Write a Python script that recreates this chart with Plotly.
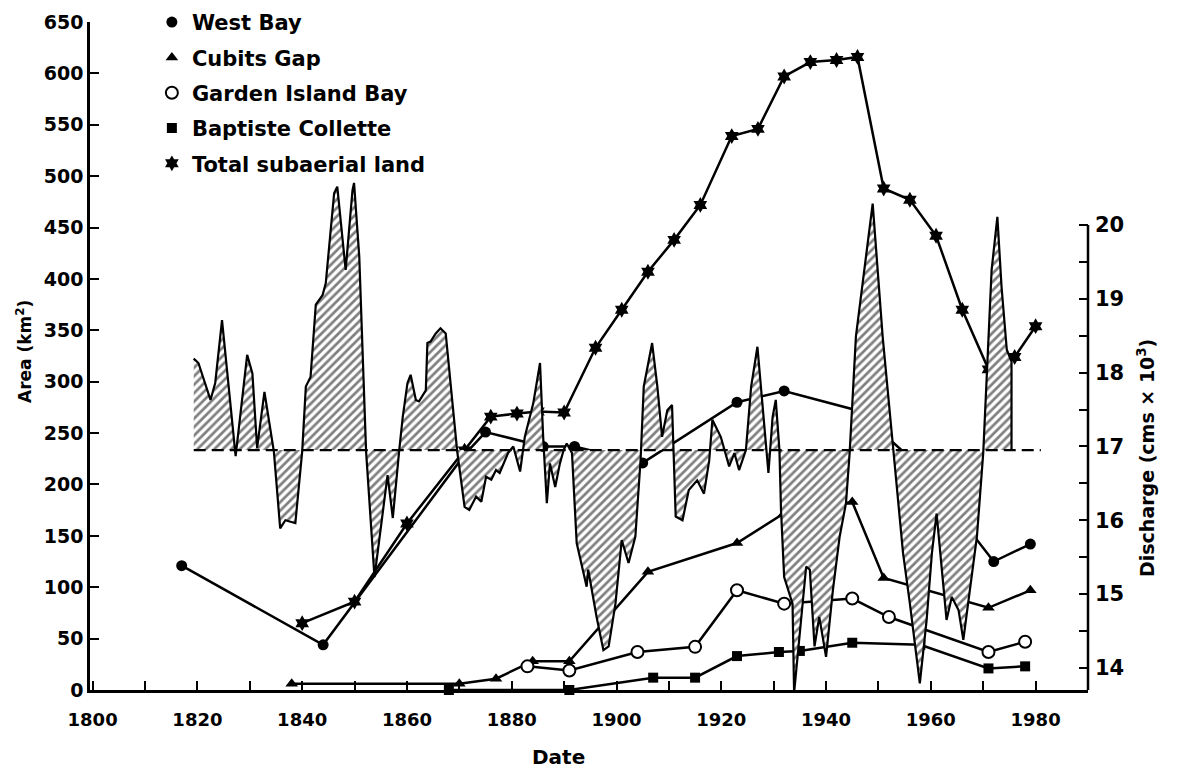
import plotly.graph_objects as go

# Surfaces des sous-deltas (km2)
WB_YEARS = [1817, 1844, 1871, 1875, 1886, 1892, 1905, 1923, 1932, 1946, 1958, 1972, 1979]
WB_AREA = [121, 44, 229, 251, 237, 237, 221, 280, 291, 272, 217, 125, 142]

CG_YEARS = [1838, 1870, 1877, 1884, 1891, 1906, 1923, 1932, 1945, 1951, 1971, 1979]
CG_AREA = [6, 6, 11, 28, 28, 115, 143, 172, 183, 109, 80, 97]

GIB_YEARS = [1883, 1891, 1904, 1915, 1923, 1932, 1945, 1952, 1971, 1978]
GIB_AREA = [23, 19, 37, 42, 97, 84, 89, 71, 37, 47]

BC_YEARS = [1868, 1891, 1907, 1915, 1923, 1931, 1935, 1945, 1958, 1971, 1978]
BC_AREA = [0, 0, 12, 12, 33, 37, 38, 46, 44, 21, 23]

TOT_YEARS = [1840, 1850, 1860, 1871, 1876, 1881, 1885, 1890, 1896, 1901, 1906, 1911, 1916,
             1922, 1927, 1932, 1937, 1942, 1946, 1951, 1956, 1961, 1966, 1971, 1976, 1980]
TOT_AREA = [65, 86, 162, 233, 266, 269, 271, 270, 333, 370, 407, 438, 472,
            539, 546, 597, 611, 613, 616, 488, 477, 442, 370, 312, 324, 354]

# Débit (cms x 10^3)
DIS_YEARS = [1819.3, 1820.2, 1822.5, 1823.4, 1824.7, 1827.3, 1829.5, 1830.5, 1831.4, 1832.8,
             1834.6, 1835.8, 1836.8, 1838.7, 1840.0, 1840.7, 1841.6, 1842.6, 1843.9, 1844.5,
             1846.1, 1846.7, 1848.3, 1849.6, 1849.9, 1850.9, 1852.2, 1853.8, 1856.3, 1857.3,
             1858.5, 1859.2, 1860.1, 1860.7, 1861.7, 1862.3, 1863.6, 1863.9, 1864.5, 1865.5,
             1866.4, 1867.4, 1868.7, 1869.6, 1871.0, 1871.9, 1873.2, 1874.2, 1875.1, 1876.1,
             1877.0, 1877.7, 1879.3, 1880.3, 1881.6, 1882.5, 1884.1, 1885.4, 1886.0, 1886.7,
             1887.3, 1888.3, 1889.2, 1889.9, 1890.5, 1891.5, 1892.4, 1894.3, 1894.6, 1896.2,
             1897.5, 1898.5, 1899.8, 1901.0, 1902.3, 1903.6, 1904.6, 1905.2, 1906.8, 1907.8,
             1908.7, 1909.7, 1910.6, 1911.3, 1912.6, 1913.8, 1915.4, 1916.7, 1917.7, 1918.3,
             1919.9, 1921.5, 1922.5, 1923.4, 1924.7, 1925.7, 1926.9, 1927.9, 1929.0, 1929.8,
             1930.4, 1931.1, 1931.4, 1932.0, 1933.6, 1933.9, 1936.2, 1936.9, 1937.8, 1938.7,
             1940.0, 1941.3, 1942.6, 1943.8, 1944.5, 1945.7, 1948.9, 1950.8, 1952.8, 1954.7,
             1956.0, 1957.9, 1959.2, 1960.2, 1961.1, 1963.0, 1964.0, 1965.3, 1966.2, 1967.5,
             1968.8, 1970.0, 1970.7, 1971.6, 1972.7, 1973.5, 1974.5, 1975.4, 1975.4]
DIS_VALUES = [18.19, 18.13, 17.63, 17.86, 18.71, 16.87, 18.24, 17.99, 16.98, 17.74,
              16.93, 15.89, 16.00, 15.96, 16.93, 17.81, 17.94, 18.92, 19.05, 19.21,
              20.43, 20.52, 19.39, 20.47, 20.57, 19.57, 16.93, 15.23, 16.61, 16.03,
              16.93, 17.40, 17.86, 17.97, 17.63, 17.61, 17.76, 18.40, 18.42, 18.53,
              18.60, 18.53, 17.58, 16.93, 16.18, 16.14, 16.32, 16.25, 16.59, 16.55,
              16.68, 16.64, 16.91, 17.00, 16.66, 17.13, 17.58, 18.13, 17.13, 16.23,
              16.77, 16.45, 16.77, 16.95, 17.04, 16.91, 15.69, 15.10, 15.33, 14.69,
              14.24, 14.29, 14.87, 15.73, 15.42, 15.78, 16.82, 17.81, 18.40, 17.81,
              17.13, 17.49, 17.56, 16.05, 16.00, 16.41, 16.54, 16.36, 16.81, 17.36,
              17.13, 16.73, 16.91, 16.68, 16.95, 17.81, 18.35, 17.58, 16.64, 17.40,
              17.63, 16.95, 16.14, 15.23, 14.87, 13.66, 15.37, 15.33, 14.29, 14.69,
              14.15, 15.05, 15.78, 16.23, 16.91, 18.49, 20.29, 18.49, 16.95, 15.55,
              14.87, 13.79, 14.65, 15.55, 16.09, 14.65, 14.96, 14.78, 14.38, 15.10,
              15.78, 16.91, 18.04, 19.39, 20.11, 19.16, 18.31, 18.15, 16.95]
DIS_MEAN = 16.95
MEAN_LINE_YEARS = [1819.3, 1981.0]

X_TICKS = list(range(1800, 1990, 10))
X_LABELS = [str(y) if y % 20 == 0 else "" for y in X_TICKS]
AREA_TICKS = list(range(0, 651, 50))
DIS_TICKS = [14, 15, 16, 17, 18, 19, 20]
DIS_MINOR = [14.5, 15.5, 16.5, 17.5, 18.5, 19.5]

FONT = "DejaVu Sans"
LW = 2.5

fig = go.Figure()

# Zone hachurée du débit autour de la moyenne
fig.add_trace(go.Scatter(x=[DIS_YEARS[0], DIS_YEARS[-1]], y=[DIS_MEAN, DIS_MEAN], yaxis="y2",
                         mode="lines", line=dict(width=0, color="black"),
                         showlegend=False, hoverinfo="skip"))
fig.add_trace(go.Scatter(x=DIS_YEARS, y=DIS_VALUES, yaxis="y2", mode="lines",
                         line=dict(color="black", width=2.2),
                         fill="tonexty", fillcolor="white",
                         fillpattern=dict(shape="/", fgcolor="black", bgcolor="white",
                                          size=6, solidity=0.45),
                         showlegend=False))
fig.add_trace(go.Scatter(x=MEAN_LINE_YEARS, y=[DIS_MEAN, DIS_MEAN], yaxis="y2", mode="lines",
                         line=dict(color="black", width=2.2, dash="12px,6px"),
                         showlegend=False))

series = [
    ("West Bay", WB_YEARS, WB_AREA, dict(symbol="circle", size=11, color="black")),
    ("Cubits Gap", CG_YEARS, CG_AREA, dict(symbol="triangle-up", size=11, color="black")),
    ("Garden Island Bay", GIB_YEARS, GIB_AREA,
     dict(symbol="circle", size=12, color="white", line=dict(color="black", width=2))),
    ("Baptiste Collette", BC_YEARS, BC_AREA, dict(symbol="square", size=10, color="black")),
    ("Total subaerial land", TOT_YEARS, TOT_AREA, dict(symbol="hexagram", size=12, color="black")),
]

for name, xs, ys, mk in series:
    fig.add_trace(go.Scatter(x=xs, y=ys, mode="lines+markers", name=name,
                             line=dict(color="black", width=LW), marker=mk,
                             cliponaxis=False, showlegend=False))

# Légende (marqueurs seuls)
for i, (name, xs, ys, mk) in enumerate(series):
    fig.add_trace(go.Scatter(x=[None], y=[None], mode="markers", name=name, marker=mk,
                             legendgroup=str(i), showlegend=True))

fig.update_layout(
    width=1178, height=768,
    margin=dict(l=90, r=90, t=22, b=78, autoexpand=False),
    plot_bgcolor="white", paper_bgcolor="white",
    font=dict(family=FONT, size=18, color="black", weight="bold"),
    showlegend=True,
    legend=dict(x=0.062, y=1.03, xanchor="left", yanchor="top",
                bgcolor="rgba(0,0,0,0)", font=dict(size=21, family=FONT, weight="bold"),
                tracegroupgap=5, itemwidth=30),
    xaxis=dict(range=[1799.5, 1990], tickvals=X_TICKS, ticktext=X_LABELS,
               ticks="inside", ticklen=9, tickwidth=2, tickcolor="black",
               showline=True, linewidth=LW, linecolor="black", showgrid=False,
               zeroline=False, tickfont=dict(size=18), ticklabelstandoff=12),
    yaxis=dict(range=[0, 650], tickvals=AREA_TICKS, ticks="inside", ticklen=9, tickwidth=2,
               tickcolor="black", showline=True, linewidth=LW, linecolor="black",
               showgrid=False, zeroline=False, tickfont=dict(size=19)),
    yaxis2=dict(range=[13.70, 22.75], overlaying="y", side="right", tickvals=DIS_TICKS,
                ticks="inside", ticklen=9, tickwidth=2, tickcolor="black",
                minor=dict(tickmode="array", tickvals=DIS_MINOR, ticks="inside",
                           ticklen=9, tickwidth=2, tickcolor="black"),
                showline=False, showgrid=False, zeroline=False, tickfont=dict(size=21),
                ticklabelstandoff=6),
)

# Axe droit partiel (jusqu'à 20)
fig.add_shape(type="line", xref="paper", yref="y2", x0=1, x1=1, y0=13.70, y1=20,
              line=dict(color="black", width=LW))

# Titres des axes
fig.add_annotation(text="Area (km<sup>2</sup>)", xref="paper", yref="paper",
                   x=(24 - 90) / 998, xanchor="center", y=(690 - 352) / 668, yanchor="middle",
                   textangle=-90, showarrow=False,
                   font=dict(size=17, family=FONT, weight="bold"))
fig.add_annotation(text="Discharge (cms × 10<sup>3</sup>)", xref="paper", yref="paper",
                   x=1.0, xshift=72, y=(690 - 458) / 668, yanchor="middle", textangle=-90,
                   showarrow=False, font=dict(size=19, family=FONT, weight="bold"))
fig.add_annotation(text="Date", xref="paper", yref="paper", x=(558 - 90) / 998,
                   y=-(757 - 690) / 668, yanchor="middle",
                   showarrow=False, font=dict(size=20, family=FONT, weight="bold"))

fig.write_html("out.html", config={"displayModeBar": False},
               post_script="document.body.style.margin='0';")
